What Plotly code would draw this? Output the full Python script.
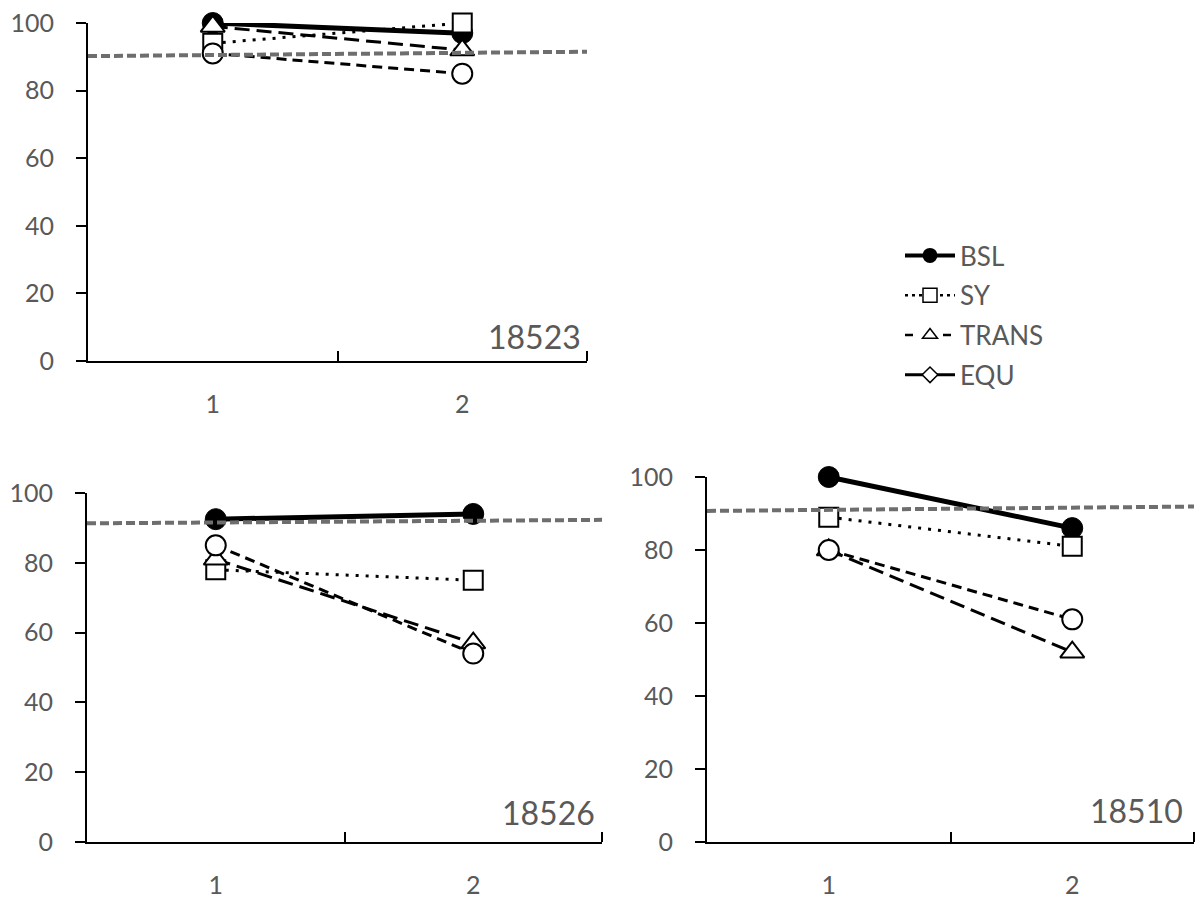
import plotly.graph_objects as go

# ---------------- data ----------------
categories = [1, 2]
tick_labels = ["1", "2"]
panels = ["18523", "18526", "18510"]
series_names = ["BSL", "SY", "TRANS", "EQU"]

# values per panel (order: 18523, 18526, 18510), each [session 1, session 2]
bsl = [[100, 97], [92.5, 94], [100, 86]]
sy = [[94, 100], [78, 75], [89, 81]]
trans = [[99, 92], [81, 57], [80, 52]]
equ = [[91, 85], [85, 54], [80, 61]]
# reference (criterion) line, value at left and right edge of each panel
ref_line = [[90.2, 91.5], [91.3, 92.3], [90.7, 91.9]]
ref_x = [0.5, 2.5]

W, H = 1198, 899
TXT = "#595959"
FONT = "Lato"

# panel boxes in pixels: (left, right, top, bottom)
boxes = [(88, 587, 23, 361), (87, 602, 493, 842), (707, 1194, 477, 842)]
label_shift = [(-4, 3), (-5, 8), (-9, 10)]

styles = {
    "BSL": dict(line=dict(color="black", width=5),
                marker=dict(symbol="circle", size=21, color="black",
                            line=dict(color="black", width=1))),
    "SY": dict(line=dict(color="black", width=3, dash="3px,7px"),
               marker=dict(symbol="square", size=19, color="white",
                           line=dict(color="black", width=2))),
    "TRANS": dict(line=dict(color="black", width=3, dash="15px,7px"),
                  marker=dict(symbol="triangle-up", size=21, color="white",
                              line=dict(color="black", width=2))),
    "EQU": dict(line=dict(color="black", width=3, dash="10px,6px"),
                marker=dict(symbol="circle", size=20, color="white",
                            line=dict(color="black", width=2))),
}
data = {"BSL": bsl, "SY": sy, "TRANS": trans, "EQU": equ}

fig = go.Figure()
layout = {}
annotations = []

for i, pid in enumerate(panels):
    n = "" if i == 0 else str(i + 1)
    xa, ya = "x" + n, "y" + n
    for s in series_names:
        st = styles[s]
        fig.add_trace(go.Scatter(
            x=categories, y=data[s][i], mode="lines+markers",
            line=st["line"], marker=st["marker"], name=s,
            showlegend=False, cliponaxis=False, xaxis=xa, yaxis=ya))
    fig.add_trace(go.Scatter(
        x=ref_x, y=ref_line[i], mode="lines",
        line=dict(color="#6e6e6e", width=4, dash="9px,4px"),
        showlegend=False, cliponaxis=False, xaxis=xa, yaxis=ya, name="ref"))

    l, r, t, b = boxes[i]
    layout["xaxis" + n] = dict(
        domain=[l / W, r / W], range=[0.5, 2.5], anchor=ya, automargin=False,
        tickmode="array", tickvals=categories, ticktext=tick_labels,
        ticks="", showgrid=False, zeroline=False,
        showline=True, linecolor="black", linewidth=2,
        tickfont=dict(family=FONT, size=25, color=TXT),
        ticklabelstandoff=20,
        minor=dict(tickmode="array", tickvals=[1.5, 2.5], ticks="inside",
                   ticklen=10, tickwidth=2, tickcolor="black", showgrid=False),
    )
    layout["yaxis" + n] = dict(
        domain=[1 - b / H, 1 - t / H], range=[0, 100], anchor=xa, automargin=False,
        tickmode="array", tickvals=[0, 20, 40, 60, 80, 100],
        ticks="outside", ticklen=10, tickwidth=2, tickcolor="black",
        showgrid=False, zeroline=False,
        showline=True, linecolor="black", linewidth=2,
        tickfont=dict(family=FONT, size=25, color=TXT),
        ticklabelstandoff=17,
    )
    dx, dy = label_shift[i]
    annotations.append(dict(
        text=pid, xref=xa + " domain", yref=ya + " domain", x=1, y=0,
        xanchor="right", yanchor="bottom", showarrow=False,
        xshift=dx, yshift=dy, font=dict(family=FONT, size=32, color=TXT)))

# legend entries (drawn as in the reference legend)
legend_styles = {
    "BSL": dict(line=dict(color="black", width=4),
                marker=dict(symbol="circle", size=15, color="black")),
    "SY": dict(line=dict(color="black", width=2.5, dash="3px,4px"),
               marker=dict(symbol="square", size=14, color="white",
                           line=dict(color="black", width=1.5))),
    "TRANS": dict(line=dict(color="black", width=2.5, dash="8px,30px"),
                  marker=dict(symbol="triangle-up", size=13, color="white",
                              line=dict(color="black", width=1.5))),
    "EQU": dict(line=dict(color="black", width=3),
                marker=dict(symbol="diamond", size=12, color="white",
                            line=dict(color="black", width=1.5))),
}
for s in series_names:
    st = legend_styles[s]
    fig.add_trace(go.Scatter(
        x=[None], y=[None], mode="lines+markers", name=s,
        line=st["line"], marker=st["marker"], legendgroup=s,
        showlegend=True, xaxis="x", yaxis="y"))

fig.update_layout(
    width=W, height=H, margin=dict(l=0, r=0, t=0, b=0, autoexpand=False),
    paper_bgcolor="white", plot_bgcolor="white",
    showlegend=True,
    legend=dict(x=900 / W, y=1 - 232 / H, xanchor="left", yanchor="top",
                font=dict(family=FONT, size=26, color=TXT),
                itemwidth=50, tracegroupgap=3, itemsizing="trace",
                bgcolor="rgba(0,0,0,0)"),
    annotations=annotations,
    **layout,
)

fig.write_html(
    "out.html",
    config={"displayModeBar": False},
    post_script="document.body.style.margin='0';document.body.style.overflow='hidden';",
)
